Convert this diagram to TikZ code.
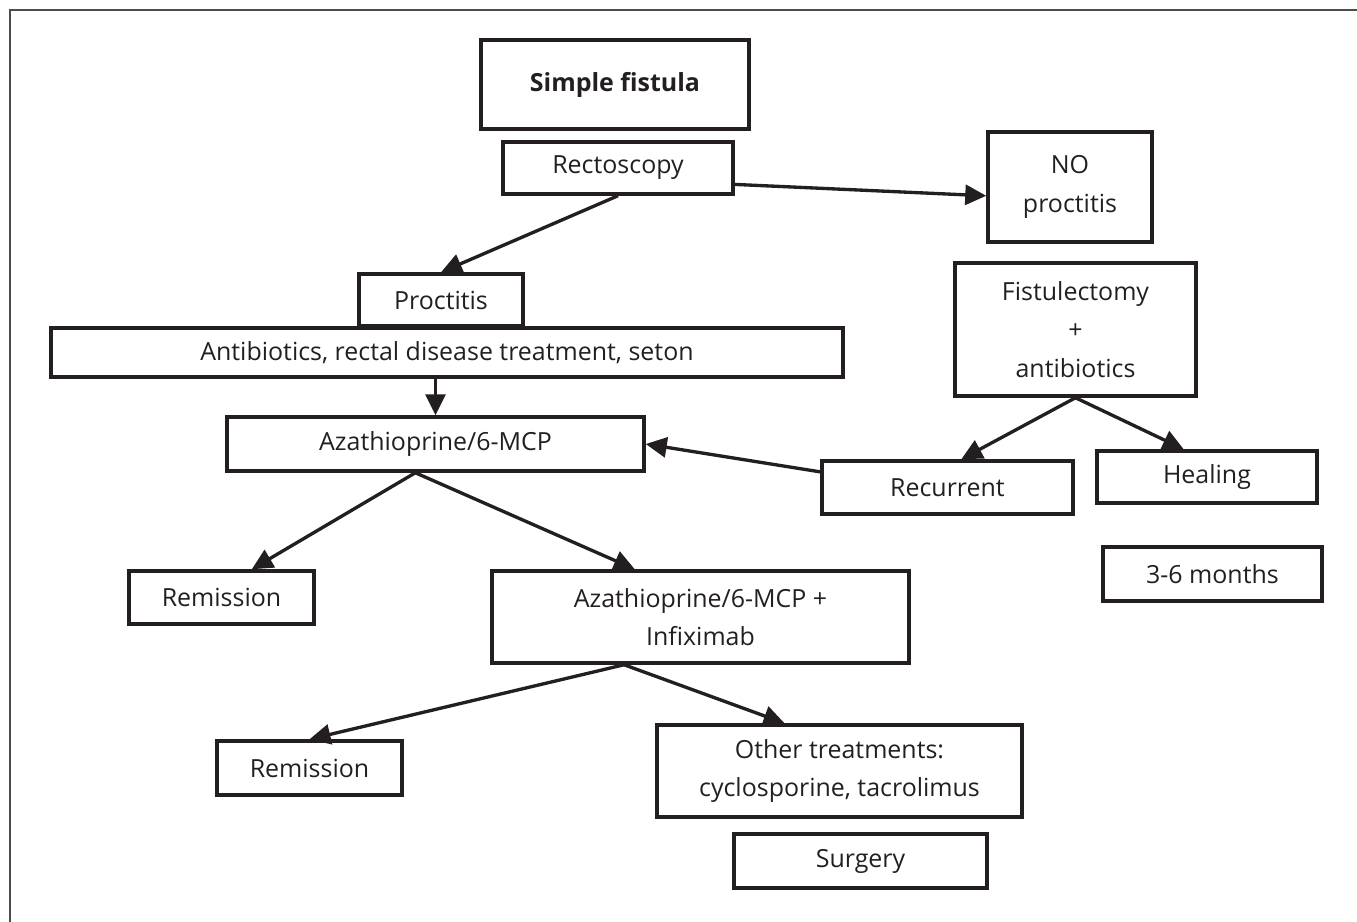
\documentclass[tikz,border=0pt]{standalone}
\usepackage{fontspec}
\setmainfont{Open Sans}
\usetikzlibrary{arrows.meta,positioning}
\definecolor{ink}{HTML}{231F20}
\tikzset
{
    flowbox/.style  = {rectangle, draw=ink, line width=2pt, text=ink, align=center, inner sep=0pt, font=\fontsize{14.2pt}{22pt}\selectfont},
    flowline/.style = {draw=ink, line width=1.9pt}
}

\begin{document}
\begin{tikzpicture}[->, >={Triangle[length=0.42cm,width=0.4cm]}, x=0.02cm, y=-0.02cm]
\useasboundingbox (0,0) rectangle (1357,922);
\draw [-, draw=black!70, line width=1.1pt] (10,922) -- (10,10) -- (1357,10);
% left branch
\node [flowbox, minimum width=5.36cm, minimum height=1.78cm] at (615,84.5) (sf) {\bfseries Simple fistula};
\node [flowbox, minimum width=4.6cm, minimum height=1.04cm] at (618,168) (rect) {Rectoscopy};
\node [flowbox, minimum width=3.28cm, minimum height=1.04cm] at (441,300) (prc) {Proctitis};
\node [flowbox, minimum width=15.84cm, minimum height=0.98cm] at (447,352.5) (abx) {Antibiotics, rectal disease treatment, seton};
\node [flowbox, minimum width=8.34cm, minimum height=1.08cm] at (435.5,444) (aza) {Azathioprine/6-MCP};
\node [flowbox, minimum width=3.7cm, minimum height=1.06cm] at (221.5,597.5) (rem1) {Remission};
\node [flowbox, minimum width=8.34cm, minimum height=1.84cm] at (700.5,617) (inf) {Azathioprine/6-MCP +\\Infiximab};
\node [flowbox, minimum width=3.7cm, minimum height=1.08cm] at (309.5,768) (rem2) {Remission};
\node [flowbox, minimum width=7.3cm, minimum height=1.84cm] at (839.5,771) (oth) {Other treatments:\\cyclosporine, tacrolimus};
\node [flowbox, minimum width=5.06cm, minimum height=1.08cm] at (860.5,861) (sur) {Surgery};
% right branch
\node [flowbox, minimum width=3.28cm, minimum height=2.2cm] at (1070,187) (nop) {NO\\proctitis};
\node [flowbox, minimum width=4.82cm, minimum height=2.66cm] at (1075.5,329.5) (fis) {Fistulectomy\\+\\antibiotics};
\node [flowbox, minimum width=5.02cm, minimum height=1.06cm] at (947.5,487.5) (rec) {Recurrent};
\node [flowbox, minimum width=4.4cm, minimum height=1.04cm] at (1207,477) (heal) {Healing};
\node [flowbox, minimum width=4.38cm, minimum height=1.08cm] at (1212.5,574) (mon) {3-6 months};
% connectors
\draw [flowline] (rect.south) -- (prc.north);
\draw [flowline] (rect.-8) -- (nop.186);
\draw [flowline] (abx.south -| aza.north) -- (aza.north);
\draw [flowline] (fis.south) -- (rec.64);
\draw [flowline] (fis.south) -- (heal.130);
\draw [flowline] (rec.173) -- (aza.east);
\draw [flowline] (aza.235) -- (rem1.43);
\draw [flowline] (aza.235) -- (inf.144);
\draw [flowline] (inf.212) -- (rem2.north);
\draw [flowline] (inf.212) -- (oth.139);
\end{tikzpicture}
\end{document}
